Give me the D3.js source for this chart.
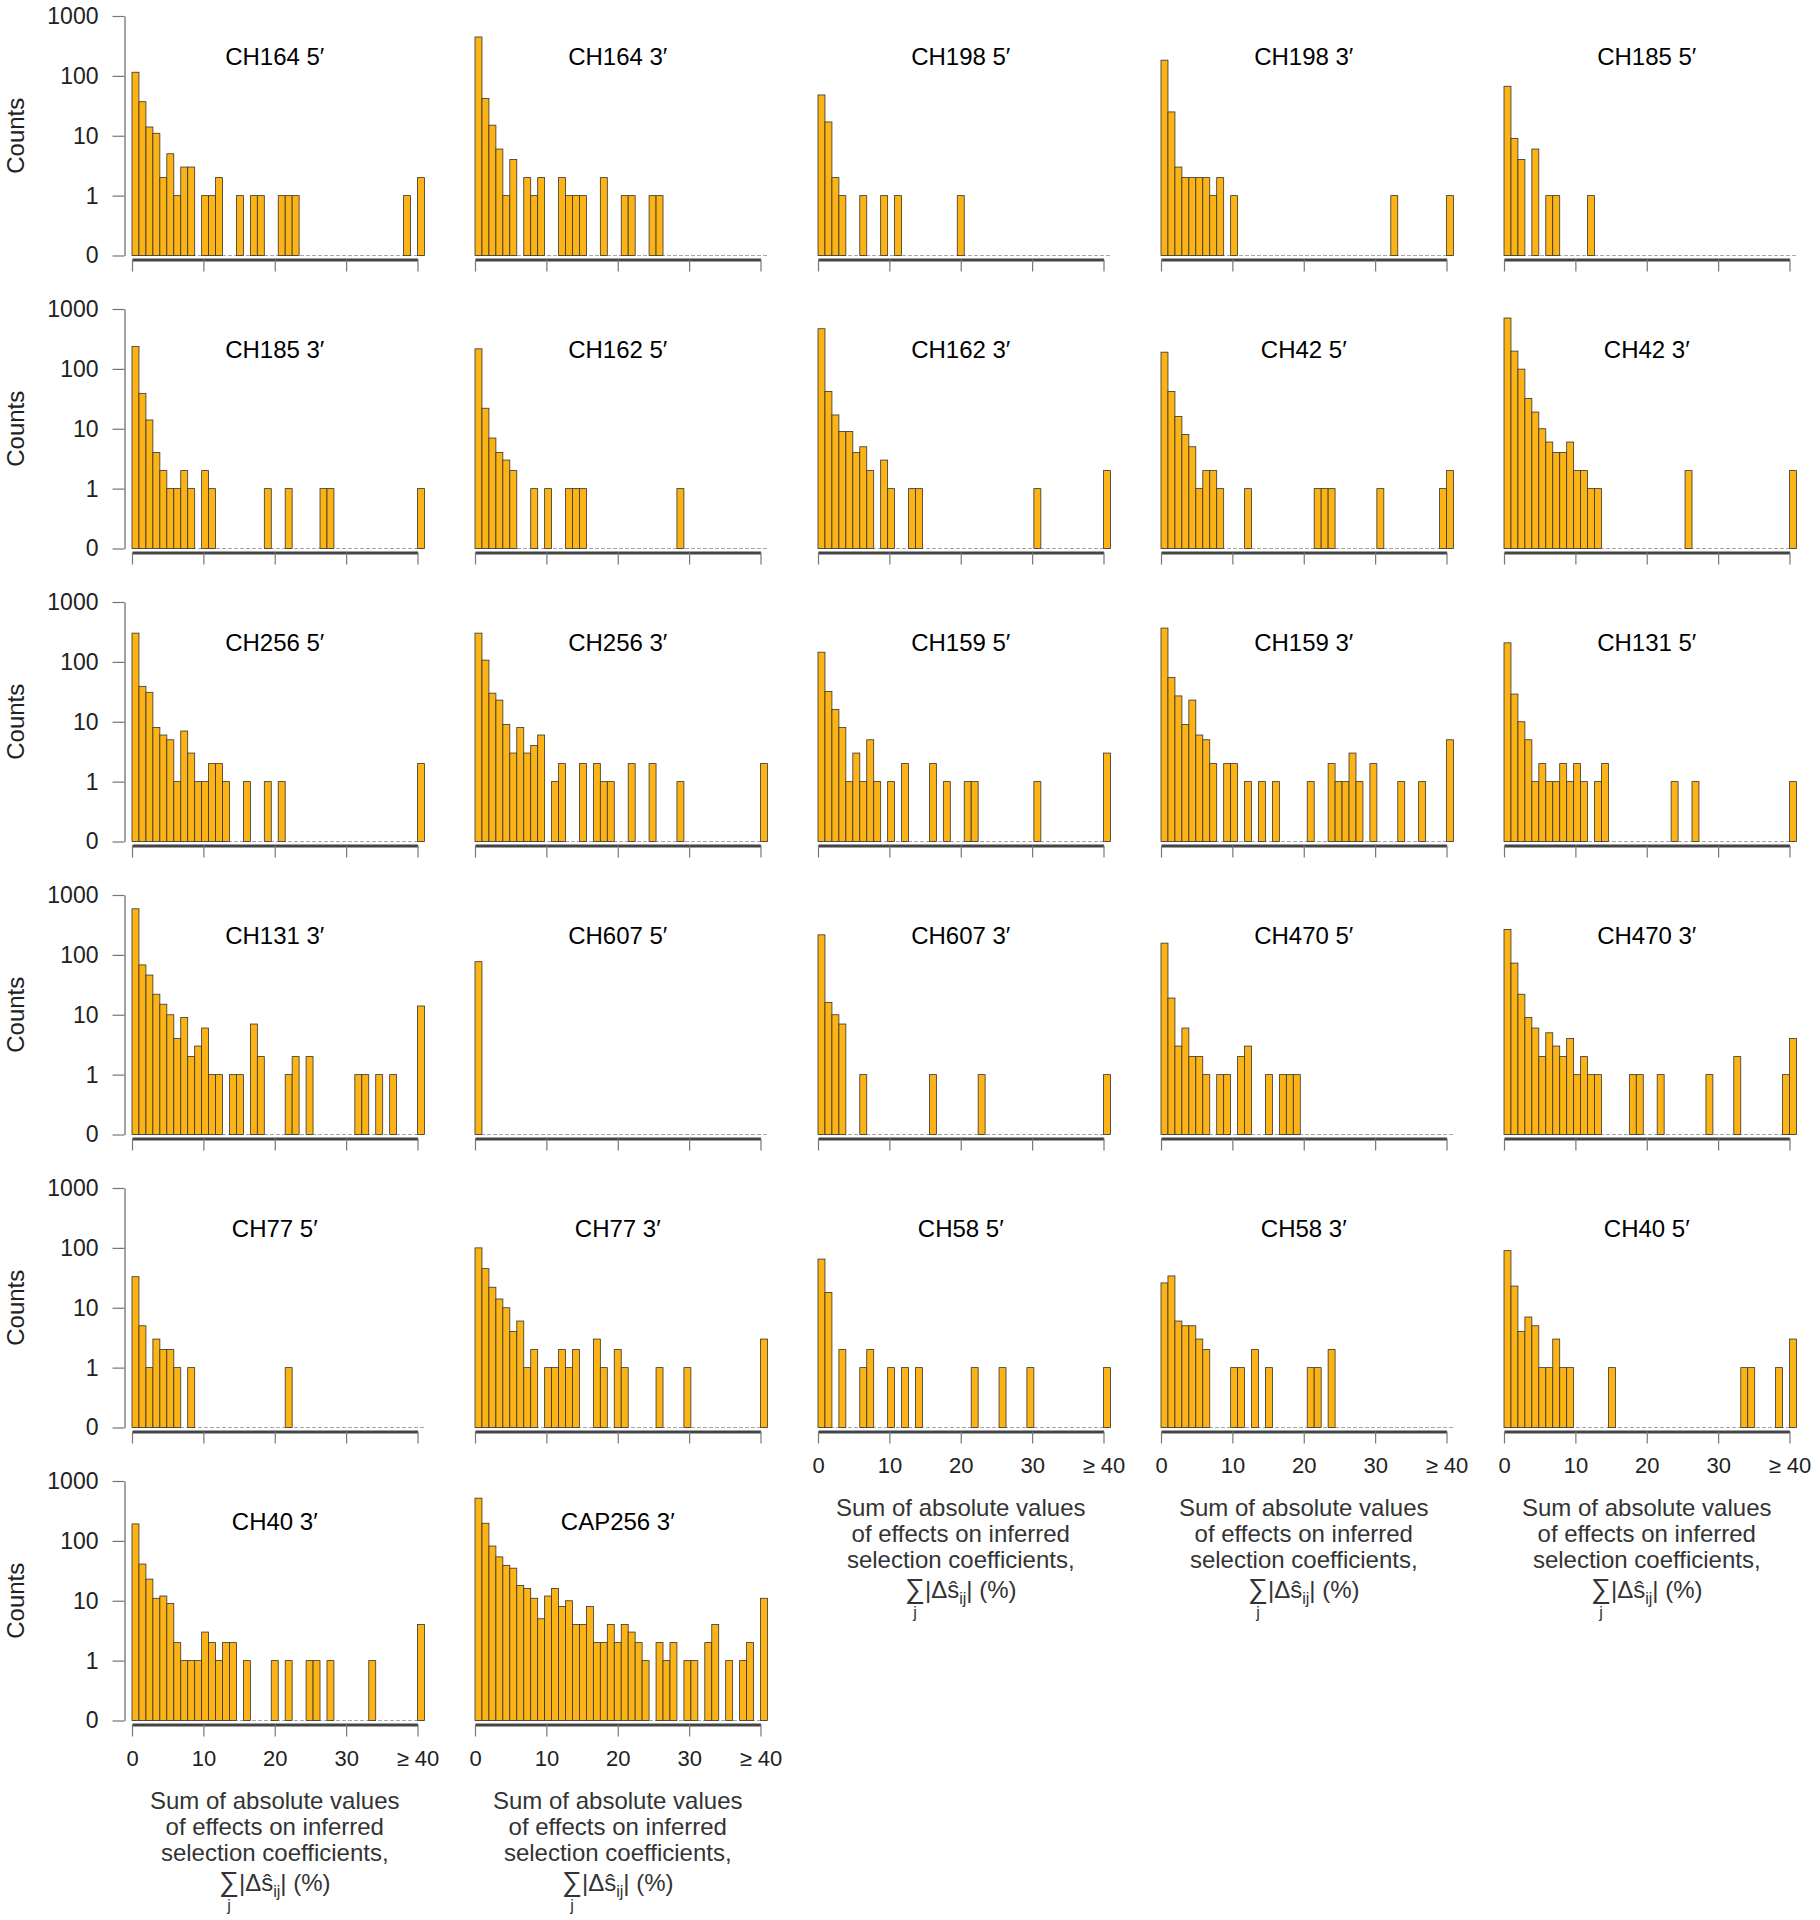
<!DOCTYPE html>
<html>
<head>
<meta charset="utf-8">
<script src="https://cdn.jsdelivr.net/npm/d3@7"></script>
<style>
  body { margin: 0; background: #fff; }
  svg { display: block; font-family: "Liberation Sans", Arial, Helvetica, sans-serif; }
</style>
</head>
<body>
<div id="chart"></div>
<script>
// panel titles, read left to right, top to bottom
const panelNames = [
  'CH164 5′', 'CH164 3′', 'CH198 5′', 'CH198 3′', 'CH185 5′',
  'CH185 3′', 'CH162 5′', 'CH162 3′', 'CH42 5′', 'CH42 3′',
  'CH256 5′', 'CH256 3′', 'CH159 5′', 'CH159 3′', 'CH131 5′',
  'CH131 3′', 'CH607 5′', 'CH607 3′', 'CH470 5′', 'CH470 3′',
  'CH77 5′', 'CH77 3′', 'CH58 5′', 'CH58 3′', 'CH40 5′',
  'CH40 3′', 'CAP256 3′'
];

// [bin, count] pairs; bin 41 is the ">= 40" bar
const ch164_5 = [[0,115],[1,37],[2,14],[3,11],[4,2],[5,5],[6,1],[7,3],[8,3],[10,1],[11,1],[12,2],[15,1],[17,1],[18,1],[21,1],[22,1],[23,1],[39,1],[41,2]];
const ch164_3 = [[0,446],[1,42],[2,15],[3,6],[4,1],[5,4],[7,2],[8,1],[9,2],[12,2],[13,1],[14,1],[15,1],[18,2],[21,1],[22,1],[25,1],[26,1]];
const ch198_5 = [[0,48],[1,17],[2,2],[3,1],[6,1],[9,1],[11,1],[20,1]];
const ch198_3 = [[0,183],[1,25],[2,3],[3,2],[4,2],[5,2],[6,2],[7,1],[8,2],[10,1],[33,1],[41,1]];
const ch185_5 = [[0,67],[1,9],[2,4],[4,6],[6,1],[7,1],[12,1]];
const ch185_3 = [[0,237],[1,39],[2,14],[3,4],[4,2],[5,1],[6,1],[7,2],[8,1],[10,2],[11,1],[19,1],[22,1],[27,1],[28,1],[41,1]];
const ch162_5 = [[0,216],[1,22],[2,7],[3,4],[4,3],[5,2],[8,1],[10,1],[13,1],[14,1],[15,1],[29,1]];
const ch162_3 = [[0,468],[1,42],[2,17],[3,9],[4,9],[5,4],[6,5],[7,2],[9,3],[10,1],[13,1],[14,1],[31,1],[41,2]];
const ch42_5 = [[0,190],[1,42],[2,16],[3,8],[4,5],[5,1],[6,2],[7,2],[8,1],[12,1],[22,1],[23,1],[24,1],[31,1],[40,1],[41,2]];
const ch42_3 = [[0,707],[1,198],[2,99],[3,32],[4,19],[5,10],[6,6],[7,4],[8,4],[9,6],[10,2],[11,2],[12,1],[13,1],[26,2],[41,2]];
const ch256_5 = [[0,302],[1,39],[2,31],[3,8],[4,6],[5,5],[6,1],[7,7],[8,3],[9,1],[10,1],[11,2],[12,2],[13,1],[16,1],[19,1],[21,1],[41,2]];
const ch256_3 = [[0,302],[1,107],[2,30],[3,23],[4,9],[5,3],[6,8],[7,3],[8,4],[9,6],[11,1],[12,2],[15,2],[17,2],[18,1],[19,1],[22,2],[25,2],[29,1],[41,2]];
const ch159_5 = [[0,145],[1,32],[2,16],[3,8],[4,1],[5,3],[6,1],[7,5],[8,1],[10,1],[12,2],[16,2],[18,1],[21,1],[22,1],[31,1],[41,3]];
const ch159_3 = [[0,367],[1,55],[2,27],[3,9],[4,23],[5,6],[6,5],[7,2],[9,2],[10,2],[12,1],[14,1],[16,1],[21,1],[24,2],[25,1],[26,1],[27,3],[28,1],[30,2],[34,1],[37,1],[41,5]];
const ch131_5 = [[0,208],[1,29],[2,10],[3,5],[4,1],[5,2],[6,1],[7,1],[8,2],[9,1],[10,2],[11,1],[13,1],[14,2],[24,1],[27,1],[41,1]];
const ch131_3 = [[0,588],[1,68],[2,46],[3,22],[4,15],[5,10],[6,4],[7,9],[8,2],[9,3],[10,6],[11,1],[12,1],[14,1],[15,1],[17,7],[18,2],[22,1],[23,2],[25,2],[32,1],[33,1],[35,1],[37,1],[41,14]];
const ch607_5 = [[0,77]];
const ch607_3 = [[0,216],[1,16],[2,10],[3,7],[6,1],[16,1],[23,1],[41,1]];
const ch470_5 = [[0,157],[1,19],[2,3],[3,6],[4,2],[5,2],[6,1],[8,1],[9,1],[11,2],[12,3],[15,1],[17,1],[18,1],[19,1]];
const ch470_3 = [[0,265],[1,73],[2,22],[3,9],[4,6],[5,2],[6,5],[7,3],[8,2],[9,4],[10,1],[11,2],[12,1],[13,1],[18,1],[19,1],[22,1],[29,1],[33,2],[40,1],[41,4]];
const ch77_5 = [[0,33],[1,5],[2,1],[3,3],[4,2],[5,2],[6,1],[8,1],[22,1]];
const ch77_3 = [[0,100],[1,45],[2,22],[3,14],[4,10],[5,4],[6,6],[7,1],[8,2],[10,1],[11,1],[12,2],[13,1],[14,2],[17,3],[18,1],[20,2],[21,1],[26,1],[30,1],[41,3]];
const ch58_5 = [[0,65],[1,18],[3,2],[6,1],[7,2],[10,1],[12,1],[14,1],[22,1],[26,1],[30,1],[41,1]];
const ch58_3 = [[0,26],[1,34],[2,6],[3,5],[4,5],[5,3],[6,2],[10,1],[11,1],[13,2],[15,1],[21,1],[22,1],[24,2]];
const ch40_5 = [[0,90],[1,23],[2,4],[3,7],[4,5],[5,1],[6,1],[7,3],[8,1],[9,1],[15,1],[34,1],[35,1],[39,1],[41,3]];
const ch40_3 = [[0,192],[1,41],[2,23],[3,11],[4,12],[5,9],[6,2],[7,1],[8,1],[9,1],[10,3],[11,2],[12,1],[13,2],[14,2],[16,1],[20,1],[22,1],[25,1],[26,1],[28,1],[34,1],[41,4]];
const cap256_3 = [[0,517],[1,197],[2,82],[3,54],[4,39],[5,35],[6,18],[7,16],[8,11],[9,5],[10,12],[11,16],[12,8],[13,10],[14,4],[15,4],[16,8],[17,2],[18,2],[19,4],[20,2],[21,4],[22,3],[23,2],[24,1],[26,2],[27,1],[28,2],[30,1],[31,1],[33,2],[34,4],[36,1],[38,1],[39,2],[41,11]];

const panelCounts = [
  ch164_5, ch164_3, ch198_5, ch198_3, ch185_5,
  ch185_3, ch162_5, ch162_3, ch42_5, ch42_3,
  ch256_5, ch256_3, ch159_5, ch159_3, ch131_5,
  ch131_3, ch607_5, ch607_3, ch470_5, ch470_3,
  ch77_5, ch77_3, ch58_5, ch58_3, ch40_5,
  ch40_3, cap256_3
];

const yTickValues = [0.1, 1, 10, 100, 1000]
    , yTickLabels = ['0', '1', '10', '100', '1000']
    , xTickValues = [0, 10, 20, 30, 40]
    , xTickLabels = ['0', '10', '20', '30', '≥ 40']
    , xLabelLines = ['Sum of absolute values', 'of effects on inferred', 'selection coefficients,']
    ;

const width = 1820
    , height = 1920
    , cols = 5
    , colX0 = 132
    , colStep = 343
    , plotW = 285.5
    , rowTop = 16
    , rowStep = 293
    , plotH = 239.5
    , barFill = '#fcb315'
    , barStroke = '#333'
    ;

const svg = d3.select('#chart')
  .append('svg')
  .attr('width', width)
  .attr('height', height)
  .style('background', '#fff');

panelNames.forEach((name, i) => drawPanel(name, panelCounts[i], i));

function drawPanel(name, counts, i) {
  const r = Math.floor(i / cols)
      , c = i % cols
      , x0 = colX0 + c * colStep
      , yTop = rowTop + r * rowStep
      , yBot = yTop + plotH
      , axisY = yBot + 4
      , isBottom = i + cols >= panelNames.length
      ;

  const x = d3.scaleLinear().domain([0, 40]).range([x0, x0 + plotW]);
  const xb = d3.scaleLinear().domain([0, 41]).range([x0, x0 + plotW]);
  const y = d3.scaleLog().domain([0.1, 1000]).range([yBot, yTop]);

  const g = svg.append('g');

  // dashed zero line
  g.append('line')
    .attr('x1', xb(0))
    .attr('x2', xb(42))
    .attr('y1', y(0.1))
    .attr('y2', y(0.1))
    .attr('stroke', '#a8a8a8')
    .attr('stroke-width', 1)
    .attr('stroke-dasharray', '4,2');

  g.append('g')
    .selectAll('rect')
    .data(counts)
    .join('rect')
      .attr('x', d => xb(d[0]))
      .attr('width', d => xb(d[0] + 1) - xb(d[0]))
      .attr('y', d => y(d[1]))
      .attr('height', d => y(0.1) - y(d[1]))
      .attr('fill', barFill)
      .attr('stroke', barStroke)
      .attr('stroke-width', 0.8);

  g.append('text')
    .attr('x', x(20))
    .attr('y', yTop + 49)
    .attr('text-anchor', 'middle')
    .attr('font-size', 24)
    .attr('fill', '#000')
    .text(name);

  // x axis on every panel, labels only on the lowest one in each column
  const xAxis = g.append('g')
    .attr('transform', `translate(0,${axisY})`)
    .call(d3.axisBottom(x)
      .tickValues(xTickValues)
      .tickSize(12)
      .tickSizeOuter(0)
      .tickPadding(14)
      .tickFormat((d, k) => isBottom ? xTickLabels[k] : ''));

  xAxis.select('.domain').attr('stroke', '#444').attr('stroke-width', 3);
  xAxis.selectAll('.tick line').attr('stroke', '#777').attr('stroke-width', 1.2);
  xAxis.selectAll('.tick text')
    .attr('font-size', 22)
    .attr('font-family', null)
    .attr('fill', '#222');

  if (c === 0) {
    const yAxis = g.append('g')
      .attr('transform', `translate(${x0 - 7.5},0)`)
      .call(d3.axisLeft(y)
        .tickValues(yTickValues)
        .tickSize(12)
        .tickSizeOuter(0)
        .tickPadding(14)
        .tickFormat((d, k) => yTickLabels[k]));

    yAxis.select('.domain').attr('stroke', '#666').attr('stroke-width', 1.2);
    yAxis.selectAll('.tick line').attr('stroke', '#777').attr('stroke-width', 1.2);
    yAxis.selectAll('.tick text')
      .attr('font-size', 23)
      .attr('font-family', null)
      .attr('fill', '#222');

    g.append('text')
      .attr('transform', `translate(24,${(yTop + yBot) / 2}) rotate(-90)`)
      .attr('text-anchor', 'middle')
      .attr('font-size', 24)
      .attr('fill', '#222')
      .text('Counts');
  }

  if (isBottom) drawXLabel(g, x(20), axisY);
}

function drawXLabel(g, cx, axisY) {
  xLabelLines.forEach((line, k) => {
    g.append('text')
      .attr('x', cx)
      .attr('y', axisY + 84 + k * 26)
      .attr('text-anchor', 'middle')
      .attr('font-size', 24)
      .attr('fill', '#333')
      .text(line);
  });

  const fy = axisY + 166;
  const f = g.append('text')
    .attr('x', cx)
    .attr('y', fy)
    .attr('text-anchor', 'middle')
    .attr('font-size', 24)
    .attr('fill', '#333');

  f.append('tspan').attr('font-size', 28).text('∑');
  f.append('tspan').text('|Δŝ');
  f.append('tspan').attr('font-size', 16).attr('dy', 6).text('ij');
  f.append('tspan').attr('dy', -6).text('| (%)');

  // index under the sum sign
  const ext = f.node().getExtentOfChar(0);
  g.append('text')
    .attr('x', ext.x + ext.width / 2)
    .attr('y', fy + 20)
    .attr('text-anchor', 'middle')
    .attr('font-size', 16)
    .attr('fill', '#333')
    .text('j');
}
</script>
</body>
</html>
